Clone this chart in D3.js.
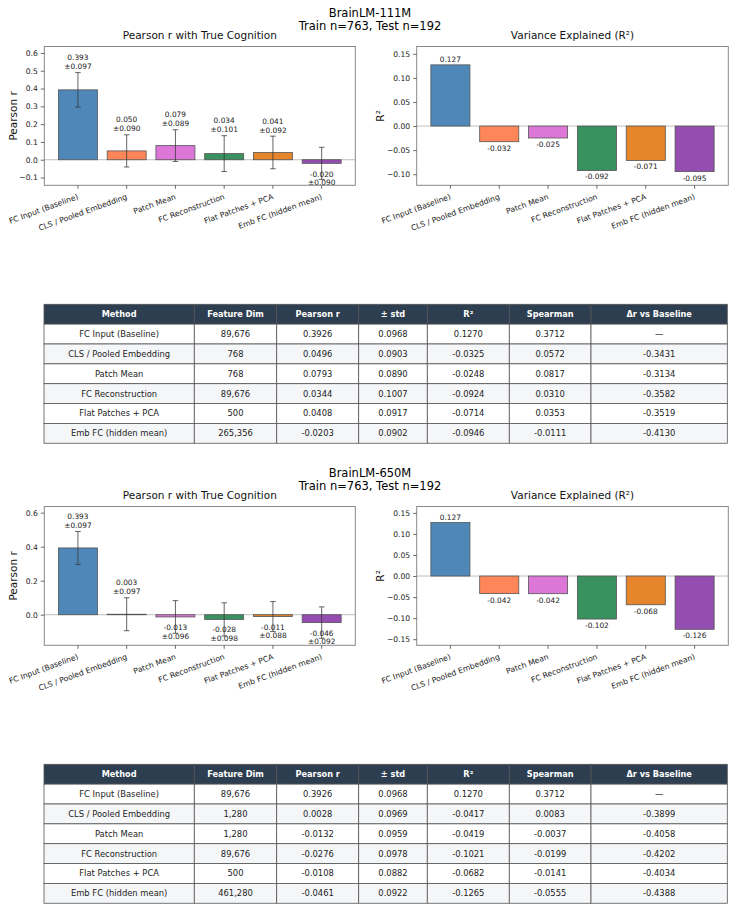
<!DOCTYPE html>
<html>
<head>
<meta charset="utf-8">
<script src="https://cdn.jsdelivr.net/npm/d3@7"></script>
<style>
  html, body { margin: 0; padding: 0; background: #fff; }
  svg { display: block; font-family: "DejaVu Sans", sans-serif; }
</style>
</head>
<body>
<svg id="chart" width="735" height="912"></svg>
<script>
// ---------------- DATA ----------------
const methods = ["FC Input (Baseline)", "CLS / Pooled Embedding", "Patch Mean", "FC Reconstruction", "Flat Patches + PCA", "Emb FC (hidden mean)"];
const barColors = ["#4682b4", "#ff7f50", "#da70d6", "#2e8b57", "#e67e22", "#8e44ad"];
const tableHeaders = ["Method", "Feature Dim", "Pearson r", "± std", "R²", "Spearman", "Δr vs Baseline"];

const models = ["BrainLM-111M", "BrainLM-650M"];
const subtitleText = "Train n=763, Test n=192";

const featDim111 = ["89,676", "768", "768", "89,676", "500", "265,356"];
const pearson111 = [0.3926, 0.0496, 0.0793, 0.0344, 0.0408, -0.0203];
const std111 = [0.0968, 0.0903, 0.0890, 0.1007, 0.0917, 0.0902];
const r2_111 = [0.1270, -0.0325, -0.0248, -0.0924, -0.0714, -0.0946];
const spearman111 = [0.3712, 0.0572, 0.0817, 0.0310, 0.0353, -0.0111];
const delta111 = [null, -0.3431, -0.3134, -0.3582, -0.3519, -0.4130];

const featDim650 = ["89,676", "1,280", "1,280", "89,676", "500", "461,280"];
const pearson650 = [0.3926, 0.0028, -0.0132, -0.0276, -0.0108, -0.0461];
const std650 = [0.0968, 0.0969, 0.0959, 0.0978, 0.0882, 0.0922];
const r2_650 = [0.1270, -0.0417, -0.0419, -0.1021, -0.0682, -0.1265];
const spearman650 = [0.3712, 0.0083, -0.0037, -0.0199, -0.0141, -0.0555];
const delta650 = [null, -0.3899, -0.4058, -0.4202, -0.4034, -0.4388];

const pearsonTicks111 = [-0.1, 0.0, 0.1, 0.2, 0.3, 0.4, 0.5, 0.6];
const pearsonTicks650 = [0.0, 0.2, 0.4, 0.6];
const r2Ticks111 = [-0.10, -0.05, 0.00, 0.05, 0.10, 0.15];
const r2Ticks650 = [-0.15, -0.10, -0.05, 0.00, 0.05, 0.10, 0.15];

// ---------------- LAYOUT ----------------
const svg = d3.select("#chart");
const panelH = 460;
const axL = { x0: 44.3, x1: 355.3 };
const axR = { x0: 416.7, x1: 728.3 };
const axY = { y0: 46.5, y1: 185.3 };
const colEdges = [44, 194.3, 276.7, 358.7, 427.3, 509.3, 591, 727.3];
const tableTop = 304.3, rowH = 19.85;

// round-half-even to 3 decimals (matches Python formatting of the values in the figure)
function f3(v) {
  const s = v * 1000;
  const fl = Math.floor(s);
  const frac = s - fl;
  let n;
  if (Math.abs(frac - 0.5) < 1e-7) n = (fl % 2 === 0) ? fl : fl + 1;
  else n = Math.round(s);
  const out = (n / 1000).toFixed(3);
  return out === "-0.000" ? "0.000" : out;
}
const f4 = v => v.toFixed(4);
const tickFmt1 = d3.format(".1f");
const tickFmt2 = d3.format(".2f");

function panel(offY, model, featDim, pearson, std, r2, spearman, delta, pTicks, rTicks) {
  const g = svg.append("g").attr("transform", `translate(0,${offY})`);

  g.append("text").attr("x", 370).attr("y", 16.5).attr("text-anchor", "middle")
    .attr("font-size", 11.5).attr("fill", "#000").text(model);
  g.append("text").attr("x", 370).attr("y", 29.5).attr("text-anchor", "middle")
    .attr("font-size", 11.5).attr("fill", "#000").text(subtitleText);

  const idx = methods.map((m, i) => i);

  const pMax = d3.max(idx, i => pearson[i] + std[i]) * 1.3;
  const pMin = d3.min(idx, i => pearson[i] - std[i]) * 1.3;
  drawBarChart(g, axL, [pMin, pMax], pTicks, tickFmt1, "Pearson r with True Cognition", "Pearson r", pearson, std, true);

  const rMax = d3.max(r2) * 1.3;
  const rMin = d3.min(r2) * 1.3;
  drawBarChart(g, axR, [rMin, rMax], rTicks, tickFmt2, "Variance Explained (R²)", "R²", r2, null, false);

  drawTable(g, featDim, pearson, std, r2, spearman, delta);
}

function drawBarChart(g, ax, yDomain, ticks, tickFmt, title, ylabel, vals, errs, isPearson) {
  const xl = d3.scaleLinear().domain([-0.69, 5.69]).range([ax.x0, ax.x1]);
  const y = d3.scaleLinear().domain(yDomain).range([axY.y1, axY.y0]);
  const bw = xl(0.4) - xl(-0.4);

  g.append("line").attr("x1", ax.x0).attr("x2", ax.x1).attr("y1", y(0)).attr("y2", y(0))
    .attr("stroke", "#b0b0b0").attr("stroke-width", 0.8);

  g.selectAll(null).data(vals).enter().append("rect")
    .attr("x", (d, i) => xl(i) - bw / 2)
    .attr("width", bw)
    .attr("y", d => Math.min(y(d), y(0)))
    .attr("height", d => Math.abs(y(d) - y(0)))
    .attr("fill", (d, i) => barColors[i])
    .attr("fill-opacity", 0.95)
    .attr("stroke", "#555").attr("stroke-width", 0.8);

  if (errs) {
    const eg = g.append("g").attr("stroke", "#333").attr("stroke-opacity", 0.75).attr("stroke-width", 1);
    vals.forEach((v, i) => {
      const cx = xl(i);
      eg.append("line").attr("x1", cx).attr("x2", cx).attr("y1", y(v - errs[i])).attr("y2", y(v + errs[i]));
      eg.append("line").attr("x1", cx - 2.8).attr("x2", cx + 2.8).attr("y1", y(v - errs[i])).attr("y2", y(v - errs[i]));
      eg.append("line").attr("x1", cx - 2.8).attr("x2", cx + 2.8).attr("y1", y(v + errs[i])).attr("y2", y(v + errs[i]));
    });
  }

  const lfs = 7.4;
  vals.forEach((v, i) => {
    const cx = xl(i);
    if (isPearson) {
      const lines = [f3(v), "±" + f3(errs[i])];
      if (v >= 0) {
        const yb = y(v + errs[i] + 0.01);
        g.append("text").attr("x", cx).attr("y", yb - lfs * 1.2 - 1.8).attr("text-anchor", "middle")
          .attr("font-size", lfs).attr("fill", "#222").text(lines[0]);
        g.append("text").attr("x", cx).attr("y", yb - 1.8).attr("text-anchor", "middle")
          .attr("font-size", lfs).attr("fill", "#222").text(lines[1]);
      } else {
        const yt = y(v - 0.035);
        g.append("text").attr("x", cx).attr("y", yt + lfs * 0.95).attr("text-anchor", "middle")
          .attr("font-size", lfs).attr("fill", "#222").text(lines[0]);
        g.append("text").attr("x", cx).attr("y", yt + lfs * 0.95 + lfs * 1.2).attr("text-anchor", "middle")
          .attr("font-size", lfs).attr("fill", "#222").text(lines[1]);
      }
    } else {
      if (v >= 0) {
        g.append("text").attr("x", cx).attr("y", y(v) - 2.5).attr("text-anchor", "middle")
          .attr("font-size", lfs).attr("fill", "#222").text(f3(v));
      } else {
        g.append("text").attr("x", cx).attr("y", y(v) + lfs + 1.5).attr("text-anchor", "middle")
          .attr("font-size", lfs).attr("fill", "#222").text(f3(v));
      }
    }
  });

  g.append("rect").attr("x", ax.x0).attr("y", axY.y0).attr("width", ax.x1 - ax.x0).attr("height", axY.y1 - axY.y0)
    .attr("fill", "none").attr("stroke", "#888").attr("stroke-width", 1);

  const yAxis = d3.axisLeft(y).tickValues(ticks).tickFormat(tickFmt).tickSize(3.5).tickPadding(3);
  const ya = g.append("g").attr("transform", `translate(${ax.x0},0)`).call(yAxis);
  ya.select(".domain").remove();
  ya.selectAll(".tick line").attr("stroke", "#444").attr("stroke-width", 0.8);
  ya.selectAll(".tick text").attr("font-size", 7.6).attr("fill", "#222").attr("font-family", "DejaVu Sans");

  const xa = g.append("g").attr("transform", `translate(0,${axY.y1})`);
  methods.forEach((m, i) => {
    const cx = xl(i);
    xa.append("line").attr("x1", cx).attr("x2", cx).attr("y1", 0).attr("y2", 3.5).attr("stroke", "#444").attr("stroke-width", 0.8);
    xa.append("text").attr("text-anchor", "end")
      .attr("transform", `translate(${cx + 1},${13.5}) rotate(-20)`)
      .attr("font-size", 7.7).attr("fill", "#222").text(m);
  });

  g.append("text").attr("x", (ax.x0 + ax.x1) / 2).attr("y", axY.y0 - 7.5).attr("text-anchor", "middle")
    .attr("font-size", 10.5).attr("fill", "#111").text(title);

  const ylx = ax.x0 - (isPearson ? 27 : 32.5);
  g.append("text").attr("transform", `translate(${ylx},${(axY.y0 + axY.y1) / 2}) rotate(-90)`)
    .attr("text-anchor", "middle").attr("font-size", 10.5).attr("fill", "#111").text(ylabel);
}

function drawTable(g, featDim, pearson, std, r2, spearman, delta) {
  const rows = methods.map((m, i) => [
    m, featDim[i], f4(pearson[i]), f4(std[i]), f4(r2[i]), f4(spearman[i]),
    delta[i] === null ? "—" : f4(delta[i])
  ]);
  const tg = g.append("g");
  tableHeaders.forEach((h, c) => {
    const x0 = colEdges[c], x1 = colEdges[c + 1];
    tg.append("rect").attr("x", x0).attr("y", tableTop).attr("width", x1 - x0).attr("height", rowH)
      .attr("fill", "#2c3e50").attr("stroke", "#555").attr("stroke-width", 0.8);
    tg.append("text").attr("x", (x0 + x1) / 2).attr("y", tableTop + rowH / 2 + 3)
      .attr("text-anchor", "middle").attr("font-size", 8.2).attr("font-weight", "bold")
      .attr("fill", "#fff").text(h);
  });
  rows.forEach((row, r) => {
    const yy = tableTop + rowH * (r + 1);
    row.forEach((cell, c) => {
      const x0 = colEdges[c], x1 = colEdges[c + 1];
      tg.append("rect").attr("x", x0).attr("y", yy).attr("width", x1 - x0).attr("height", rowH)
        .attr("fill", r % 2 === 1 ? "#f5f6f8" : "#ffffff").attr("stroke", "#555").attr("stroke-width", 0.8);
      tg.append("text").attr("x", (x0 + x1) / 2).attr("y", yy + rowH / 2 + 3)
        .attr("text-anchor", "middle").attr("font-size", 8.4).attr("fill", "#222").text(cell);
    });
  });
}

panel(0, models[0], featDim111, pearson111, std111, r2_111, spearman111, delta111, pearsonTicks111, r2Ticks111);
panel(panelH, models[1], featDim650, pearson650, std650, r2_650, spearman650, delta650, pearsonTicks650, r2Ticks650);
</script>
</body>
</html>
